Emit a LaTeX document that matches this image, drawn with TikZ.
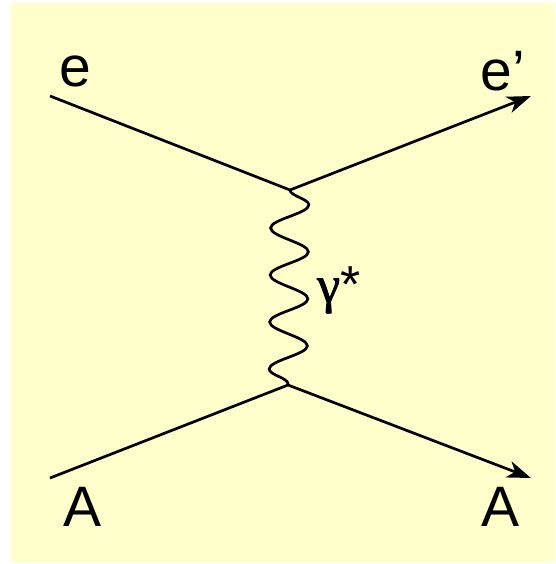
\documentclass[tikz,border=0pt]{standalone}
\usepackage{fontspec}
\setmainfont{Liberation Sans}
\newfontfamily\greekfont[FakeBold=1.5]{Liberation Serif}
\usetikzlibrary{arrows.meta,decorations.pathmorphing}
\definecolor{bgyellow}{RGB}{255,255,204}
\tikzset{
  fermion/.style={line width=2.7pt,-{Stealth[length=24pt,width=17pt,inset=7pt]}},
  fermionin/.style={line width=2.7pt},
  photon/.style={line width=2.7pt,decorate,decoration={snake,segment length=47pt,amplitude=19pt}},
  lbl/.style={inner sep=0pt,font=\fontsize{57}{60}\selectfont}
}
\begin{document}
\begin{tikzpicture}[x=1pt,y=-1pt]
\useasboundingbox (0,0) rectangle (555,564);
\fill[bgyellow] (11,3) rectangle (555,562);
\coordinate (ein) at (50,96);
\coordinate (v1) at (290,190);
\coordinate (eout) at (531,96);
\coordinate (Ain) at (50,478);
\coordinate (v2) at (288,385);
\coordinate (Aout) at (531,478);
\draw[fermionin] (ein) -- (v1);
\draw[fermion] (v1) -- (eout);
\draw[fermionin] (Ain) -- (v2);
\draw[fermion] (v2) -- (Aout);
\draw[photon] (v1) -- (v2);
\node[lbl] (le) at (75,71) {e};
\node[lbl] (lep) at (503,71) {e’};
\node[lbl] (lA) at (83,507) {A};
\node[lbl] (lA2) at (501,507) {A};
\node[inner sep=0pt,anchor=west] (lg) at (317,290) {\fontsize{52}{54}\selectfont{\greekfont γ}*};
\end{tikzpicture}
\end{document}
